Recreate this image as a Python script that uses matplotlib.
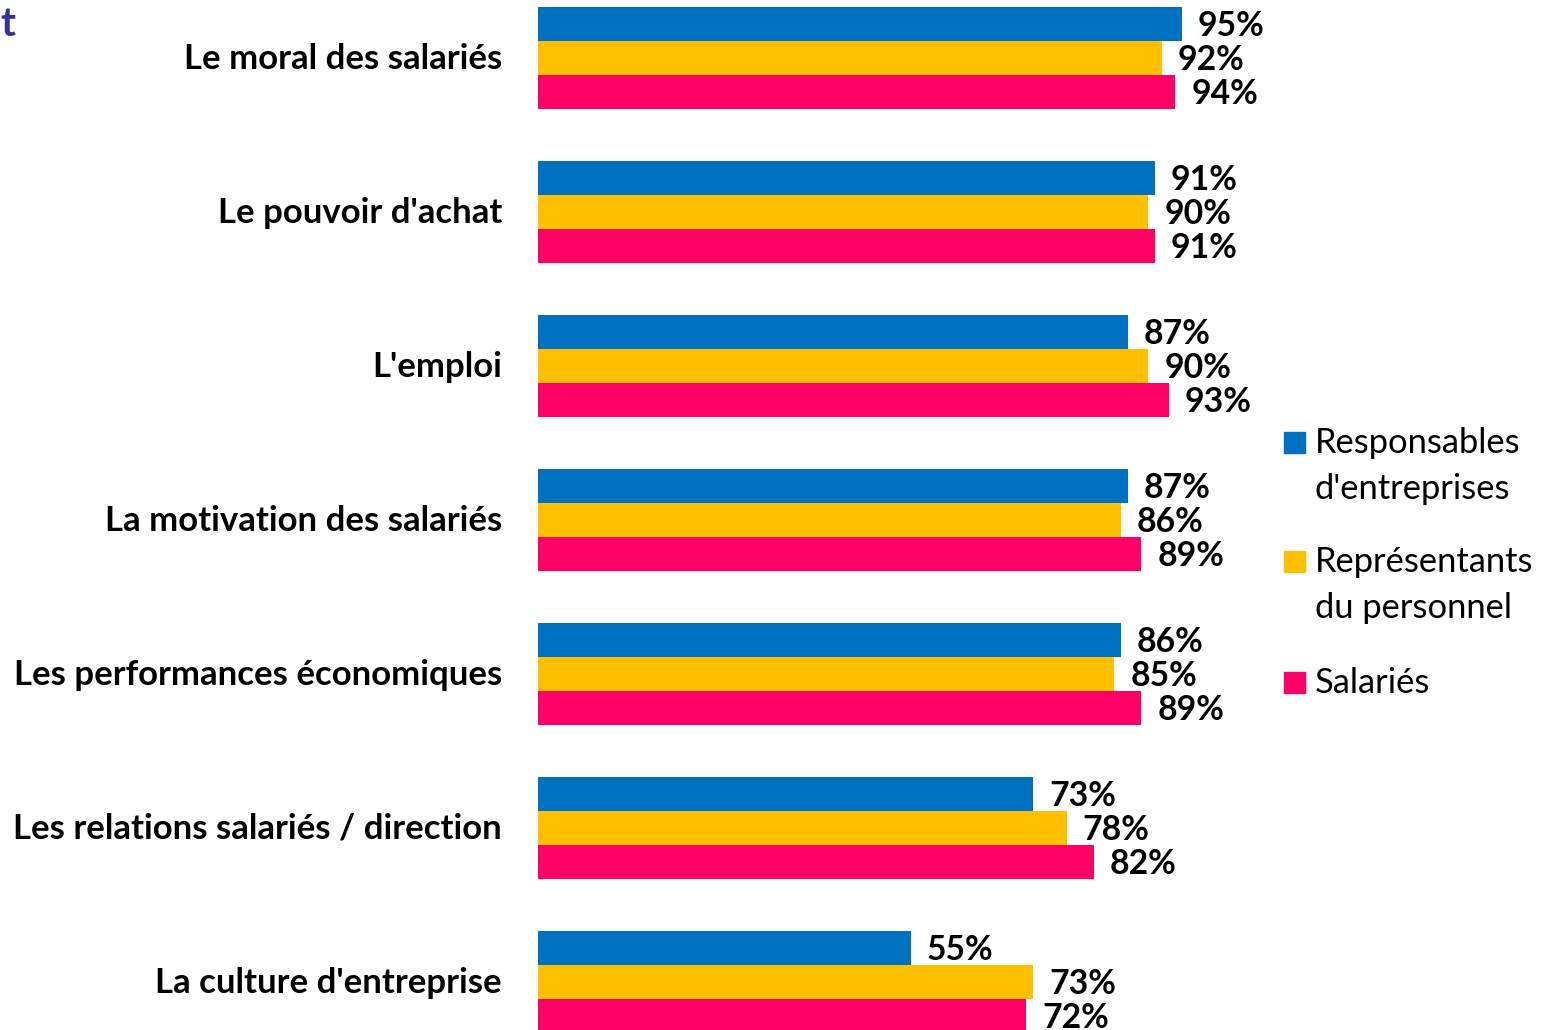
import matplotlib.pyplot as plt
from matplotlib.patches import Rectangle

plt.rcParams['font.family'] = ['Lato', 'DejaVu Sans']

categories = ["Le moral des salariés", "Le pouvoir d'achat", "L'emploi",
              "La motivation des salariés", "Les performances économiques",
              "Les relations salariés / direction", "La culture d'entreprise"]
series = ["Responsables\nd'entreprises", "Représentants\ndu personnel", "Salariés"]
responsables = [95, 91, 87, 87, 86, 73, 55]
representants = [92, 90, 90, 86, 85, 78, 73]
salaries = [94, 91, 93, 89, 89, 82, 72]
colors = ['#0070C0', '#FFC000', '#FF0066']

W, H = 1546, 1030
fig = plt.figure(figsize=(W / 100, H / 100), dpi=100)
x0 = 538
ax = fig.add_axes([x0 / W, 0, 1 - x0 / W, 1])
px_per_pct = 6.78
group_px = 154
bar_h = 34 / group_px

values = [responsables, representants, salaries]
for k, (vals, col) in enumerate(zip(values, colors)):
    ys = [i + (k - 1) * bar_h for i in range(len(categories))]
    ax.barh(ys, vals, height=bar_h, color=col, edgecolor='none')
    for y, v in zip(ys, vals):
        ax.text(v + 16 / px_per_pct, y + 2 / group_px, f"{v}%", va='center',
                ha='left', fontsize=24.3, fontweight='bold', color='black')

ax.set_xlim(0, (W - x0) / px_per_pct)
ax.set_ylim((H - 58) / group_px, -58 / group_px)
ax.axis('off')

for i, cat in enumerate(categories):
    fig.text(502 / W, 1 - (59 + i * group_px) / H, cat, ha='right', va='center',
             fontsize=25, fontweight='bold', color='black')

# legende
leg_first = [443, 562, 683]
leg_center = [466, 585, 683]
for lab, col, yf, yc in zip(series, colors, leg_first, leg_center):
    fig.patches.append(Rectangle((1284 / W, 1 - (yf + 10) / H), 21 / W, 21 / H,
                                 transform=fig.transFigure, color=col))
    fig.text(1315 / W, 1 - yc / H, lab, ha='left', va='center', fontsize=24.8,
             linespacing=1.53, color='black')

fig.text(0, 1 - 24 / H, "t", ha='left', va='center', fontsize=29,
         fontweight='bold', color='#33339A')

fig.savefig('out.png', dpi=100)
